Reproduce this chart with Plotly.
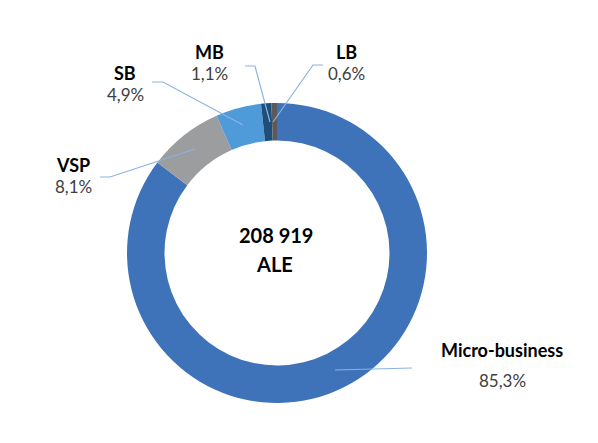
import plotly.graph_objects as go

categories = ["Micro-business", "VSP", "SB", "MB", "LB"]
shares = [85.3, 8.1, 4.9, 1.1, 0.6]
share_labels = ["85,3%", "8,1%", "4,9%", "1,1%", "0,6%"]
colors = ["#3E73BA", "#9B9D9E", "#4F9BD9", "#1F4E79", "#5A5A5A"]
total_text = "208 919"
total_unit = "ALE"

W, H = 598, 443
OFF = 8  # page body margin in the browser


def px(x, y):
    """Convert a screen pixel position (from top-left) to paper coordinates."""
    return (x - OFF) / W, 1 - (y - OFF) / H


# label centre of the name line and leader line points per category
label_pos = {
    "Micro-business": (502, 350),
    "VSP": (73, 165),
    "SB": (125, 73),
    "MB": (209, 52),
    "LB": (346, 52),
}
leaders = {
    "Micro-business": [(335, 370), (412, 368)],
    "VSP": [(100, 177), (110, 177), (195, 149)],
    "SB": [(152, 82), (163, 82), (243, 125)],
    "MB": [(245, 66), (255, 66), (270, 122)],
    "LB": [(323, 65), (313, 65), (273, 122)],
}

fig = go.Figure()

x0, y0 = px(127, 403)
x1, y1 = px(427, 103)
fig.add_trace(go.Pie(
    labels=categories,
    values=shares,
    hole=0.75,
    sort=False,
    direction="clockwise",
    rotation=0,
    marker=dict(colors=colors, line=dict(width=0)),
    textinfo="none",
    hoverinfo="label+percent",
    domain=dict(x=[x0, x1], y=[y0, y1]),
    showlegend=False,
))

shapes = []
for name, pts in leaders.items():
    path = ""
    for i, (x, y) in enumerate(pts):
        xp, yp = px(x, y)
        path += ("M" if i == 0 else "L") + f"{xp},{yp} "
    shapes.append(dict(type="path", xref="paper", yref="paper", path=path.strip(),
                       line=dict(color="#8DB3E2", width=1.2)))

annotations = []
for name, lab in zip(categories, share_labels):
    x, y = label_pos[name]
    xp, yp = px(x, y)
    annotations.append(dict(x=xp, y=yp, xref="paper", yref="paper", showarrow=False,
                            xanchor="center", yanchor="middle",
                            text=f"<b>{name}</b>", font=dict(size=18, color="#000000", family="Lato")))
    off = 30 if name == "Micro-business" else 21
    xp2, yp2 = px(x, y + off)
    annotations.append(dict(x=xp2, y=yp2, xref="paper", yref="paper", showarrow=False,
                            xanchor="center", yanchor="middle",
                            text=lab, font=dict(size=17, color="#404040", family="Lato")))

cx, cy = px(276, 235)
annotations.append(dict(x=cx, y=cy, xref="paper", yref="paper", showarrow=False,
                        xanchor="center", yanchor="middle",
                        text=f"<b>{total_text}</b>", font=dict(size=20, color="#000000", family="Lato")))
cx, cy = px(274, 264)
annotations.append(dict(x=cx, y=cy, xref="paper", yref="paper", showarrow=False,
                        xanchor="center", yanchor="middle",
                        text=f"<b>{total_unit}</b>", font=dict(size=20, color="#000000", family="Lato")))

fig.update_layout(
    width=W, height=H,
    margin=dict(l=0, r=0, t=0, b=0),
    paper_bgcolor="white",
    plot_bgcolor="white",
    shapes=shapes,
    annotations=annotations,
)

fig.write_html("out.html")
